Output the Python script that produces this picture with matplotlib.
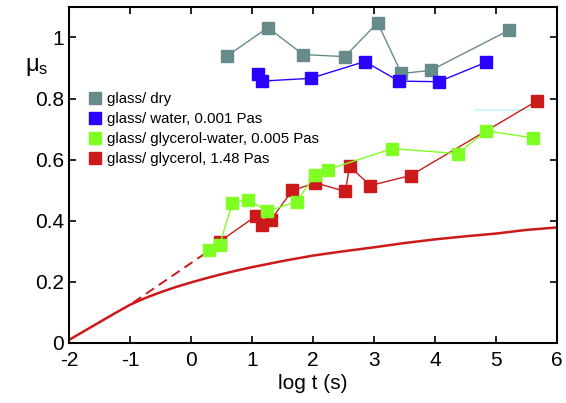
import numpy as np
import matplotlib
matplotlib.use("Agg")
import matplotlib.pyplot as plt
from matplotlib.lines import Line2D

plt.rcParams['font.family'] = ['Liberation Sans', 'DejaVu Sans']
plt.rcParams['axes.unicode_minus'] = False

# glass / dry
dry_x = [0.59, 1.26, 1.84, 2.52, 3.06, 3.45, 3.93, 5.21]
dry_y = [0.939, 1.032, 0.944, 0.937, 1.048, 0.882, 0.892, 1.023]

# glass / water
wat_x = [1.09, 1.16, 1.96, 2.85, 3.41, 4.06, 4.83]
wat_y = [0.879, 0.857, 0.866, 0.921, 0.857, 0.855, 0.918]

# glass / glycerol-water
gw_x = [0.29, 0.47, 0.68, 0.94, 1.25, 1.73, 2.03, 2.24, 3.30, 4.37, 4.84, 5.61]
gw_y = [0.303, 0.322, 0.459, 0.469, 0.431, 0.462, 0.549, 0.567, 0.636, 0.620, 0.694, 0.671]

# glass / glycerol
gl_x = [0.47, 1.07, 1.16, 1.31, 1.66, 2.04, 2.53, 2.60, 2.94, 3.60, 5.68]
gl_y = [0.332, 0.416, 0.386, 0.403, 0.499, 0.524, 0.496, 0.578, 0.515, 0.548, 0.793]

# smooth curve
cur_x = [-2, -1.75, -1.5, -1.25, -1, -0.75, -0.5, -0.25, 0, 0.25, 0.5, 0.75, 1,
         1.5, 2, 2.5, 3, 3.5, 4, 4.5, 5, 5.5, 6]
cur_y = [0.01, 0.039, 0.068, 0.097, 0.125, 0.147, 0.166, 0.183, 0.198, 0.212,
         0.225, 0.237, 0.248, 0.268, 0.286, 0.300, 0.313, 0.327, 0.339, 0.349,
         0.358, 0.370, 0.378]

# dashed extension
dash_x = [-0.95, 0.32]
dash_y = [0.132, 0.305]

# cyan short line
cyan_x = [4.65, 5.56]
cyan_y = [0.764, 0.764]

c_dry = "#678b8b"
c_wat = "#2a00ff"
c_gw = "#80ff22"
c_gl = "#cc1a1a"

fig = plt.figure(figsize=(5.66, 4.03), dpi=100)
ax = fig.add_axes([0.122, 0.149, 0.862, 0.834])

ax.plot(cur_x, cur_y, color=c_gl, lw=1.8)
ax.plot(dash_x, dash_y, color=c_gl, lw=1.4, ls=(0, (5, 3)))
ax.plot(cyan_x, cyan_y, color="#c8f4f8", lw=1.2)

ax.plot(dry_x, dry_y, "-s", color=c_dry, lw=1, ms=8.5)
ax.plot(wat_x, wat_y, "-s", color=c_wat, lw=1, ms=8.5)
ax.plot(gl_x, gl_y, "-s", color=c_gl, lw=1, ms=8.5, zorder=3)
ax.plot(gw_x, gw_y, "-s", color=c_gw, lw=1, ms=8.5, zorder=4)

labels = ["glass/ dry", "glass/ water, 0.001 Pas",
          "glass/ glycerol-water, 0.005 Pas", "glass/ glycerol, 1.48 Pas"]
handles = [Line2D([], [], ls="none", marker="s", color=c, ms=8.5)
           for c in [c_dry, c_wat, c_gw, c_gl]]
ax.legend(handles, labels, loc="upper left", bbox_to_anchor=(0.025, 0.765), frameon=False,
          fontsize=10.8, handletextpad=0.3, labelspacing=0.4, handlelength=1.0,
          borderaxespad=0)

ax.set_xlim(-2, 6)
ax.set_ylim(0, 1.1)
ax.set_xticks(np.arange(-2, 7, 1))
ax.set_yticks([0, 0.2, 0.4, 0.6, 0.8, 1])
ax.set_yticklabels(["0", "0.2", "0.4", "0.6", "0.8", "1"])
ax.tick_params(direction="in", top=True, right=True, labelsize=15, length=5, width=1.2)
ax.tick_params(axis="x", pad=6)
for s in ax.spines.values():
    s.set_linewidth(1.5)
ax.set_xlabel("log t (s)", fontsize=15, labelpad=3)
fig.text(0.045, 0.825, r"$\mathregular{μ_s}$", fontsize=17)

plt.savefig("out.png", dpi=100)
